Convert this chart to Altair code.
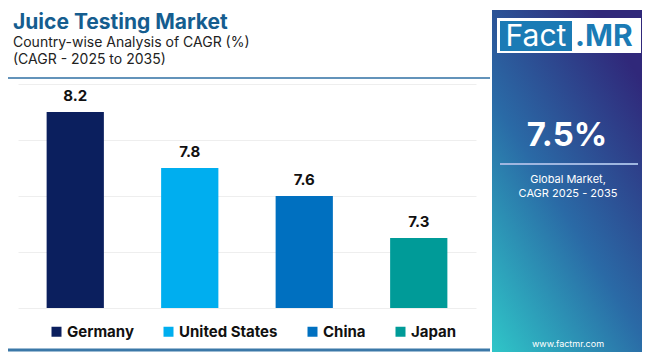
import altair as alt
import pandas as pd

# ---- data ----
countries = ["Germany", "United States", "China", "Japan"]
cagr = [8.2, 7.8, 7.6, 7.3]
bar_colors = ["#0b1f5e", "#00aeef", "#0070c0", "#009b98"]
grid_values = [6.8, 7.0, 7.2, 7.4, 7.6, 7.8, 8.0, 8.2, 8.4]

title_text = "Juice Testing Market"
subtitle_1 = "Country-wise Analysis of CAGR (%)"
subtitle_2 = "(CAGR - 2025 to 2035)"
global_value = "7.5%"
global_line_1 = "Global Market,"
global_line_2 = "CAGR 2025 - 2035"
site_text = "www.factmr.com"

FONT = "Inter"

df = pd.DataFrame({"country": countries, "cagr": cagr})
one = pd.DataFrame({"k": [0]})

x_enc = alt.X("country:N", sort=countries, axis=None,
              scale=alt.Scale(paddingInner=0.5, paddingOuter=0.25))
y_scale = alt.Scale(domain=[6.8, 8.4], zero=False, nice=False)

bars = alt.Chart(df).mark_bar().encode(
    x=x_enc,
    y=alt.Y("cagr:Q", scale=y_scale,
            axis=alt.Axis(values=grid_values, grid=True, gridColor="#eeeeee",
                          labels=False, ticks=False, domain=False, title=None)),
    y2=alt.datum(6.8),
    color=alt.Color("country:N", sort=countries,
                    scale=alt.Scale(domain=countries, range=bar_colors),
                    legend=alt.Legend(orient="none", legendX=31, legendY=240,
                                      direction="horizontal", title=None,
                                      padding=0,
                                      symbolType="square", symbolSize=100,
                                      symbolStrokeWidth=0, labelFont=FONT,
                                      labelFontSize=15, labelFontWeight="bold",
                                      labelColor="#111111", columnPadding=27,
                                      labelOffset=3)),
)

labels = alt.Chart(df).mark_text(dy=-16, font=FONT, fontSize=15,
                                 fontWeight="bold", color="#111111").encode(
    x=x_enc,
    y=alt.Y("cagr:Q", scale=y_scale),
    text=alt.Text("cagr:Q", format=".1f"),
)


def txt(s, x, y, size, color, weight="normal", align="left", baseline="middle"):
    return alt.Chart(one).mark_text(text=s, font=FONT, fontSize=size,
                                    fontWeight=weight, color=color,
                                    align=align, baseline=baseline).encode(
        x=alt.value(x), y=alt.value(y))


def rect(x, x2, y, y2, color):
    return alt.Chart(one).mark_rect(color=color).encode(
        x=alt.value(x), x2=alt.value(x2), y=alt.value(y), y2=alt.value(y2))


def rule(x, x2, y, color, w):
    return alt.Chart(one).mark_rule(color=color, strokeWidth=w).encode(
        x=alt.value(x), x2=alt.value(x2), y=alt.value(y))


gradient = alt.Gradient(
    gradient="linear", x1=0, y1=1, x2=0.7, y2=0,
    stops=[alt.GradientStop(offset=0, color="#2fc6c8"),
           alt.GradientStop(offset=0.5, color="#2a6aa6"),
           alt.GradientStop(offset=1, color="#30287a")])

panel = alt.Chart(one).mark_rect(color=gradient).encode(
    x=alt.value(474), x2=alt.value(624), y=alt.value(-74), y2=alt.value(268))

deco = [
    txt(title_text, -5, -55, 21, "#155d8f", "bold", "left", "alphabetic"),
    txt(subtitle_1, -5, -41, 14, "#222222"),
    txt(subtitle_2, -5, -24, 14, "#222222"),
    rule(-10, 472, -6, "#2f6fa3", 1.5),
    rule(-10, 472, 266, "#3b78a8", 3),
    panel,
    rect(479, 623, -66, -31, "#ffffff"),
    rect(482, 554, -63, -33, "#1b7bb5"),
    txt("Fact", 518, -47, 30, "#ffffff", "normal", "center"),
    txt(".MR", 557, -47, 30, "#1b7bb5", "bold", "left"),
    txt(global_value, 549, 52, 33, "#ffffff", "bold", "center"),
    rule(482, 620, 80, "#9fb6e0", 2),
    txt(global_line_1, 550, 96, 11, "#ffffff", "normal", "center"),
    txt(global_line_2, 550, 110, 11, "#ffffff", "normal", "center"),
    txt(site_text, 550, 260, 9, "#ffffff", "normal", "center"),
]

chart = alt.layer(bars, labels, *deco).properties(
    width=458, height=224,
    autosize=alt.AutoSizeParams(type="none"),
    padding={"left": 10, "top": 76, "right": 166, "bottom": 44},
    background="#ffffff",
).configure_view(stroke=None)

chart.save("out.html", embed_options={"renderer": "svg", "actions": False})
